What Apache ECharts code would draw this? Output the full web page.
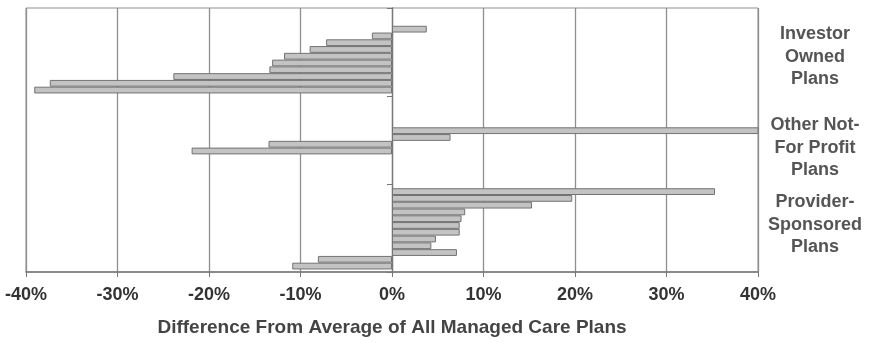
<!DOCTYPE html>
<html>
<head>
<meta charset="utf-8">
<script src="https://cdn.jsdelivr.net/npm/echarts@6/dist/echarts.min.js"></script>
<style>
html,body{margin:0;padding:0;background:#fff;}
#chart{width:873px;height:343px;}
</style>
</head>
<body>
<div id="chart"></div>
<script>
// ---- data ----
const groupLabels = ['Investor\nOwned\nPlans', 'Other Not-\nFor Profit\nPlans', 'Provider-\nSponsored\nPlans'];
const investorOwned = [3.8, -2.2, -7.2, -9.0, -11.8, -13.1, -13.4, -23.9, -37.4, -39.1];
const otherNotForProfit = [41, 6.4, -13.5, -21.9];
const providerSponsored = [35.3, 19.7, 15.3, 8.0, 7.6, 7.4, 7.4, 4.8, 4.3, 7.1, -8.1, -10.9];
const xTicks = [-40, -30, -20, -10, 0, 10, 20, 30, 40];

// ---- layout of bar slots (not data) ----
const SUB_PER_BAR = 4;          // sub-slots per bar height
const BARS_PER_GROUP = 13;      // bar slots per category band
const SUB_PER_GROUP = SUB_PER_BAR * BARS_PER_GROUP;
const groupStart = [12, 20, 4]; // first sub-slot index for each group's bars
const groups = [investorOwned, otherNotForProfit, providerSponsored];
// vertical nudge of the right-hand labels (spacer lines, in px)
const labelSpacer = [{top: 10}, {top: 16}, {bottom: 6}];

const totalSlots = SUB_PER_GROUP * groups.length;
const slotCats = [];
const barData = [];
for (let i = 0; i < totalSlots; i++) { slotCats.push('s' + i); barData.push('-'); }
groups.forEach((vals, g) => {
  vals.forEach((v, i) => {
    barData[g * SUB_PER_GROUP + groupStart[g] + i * SUB_PER_BAR] = v;
  });
});

const gridTop = 8, gridBottom = 71, chartH = 343;
const barW = (chartH - gridTop - gridBottom) / (BARS_PER_GROUP * groups.length);

const chart = echarts.init(document.getElementById('chart'), null, {renderer: 'canvas'});
const FONT = '"Liberation Sans", Arial, sans-serif';
chart.setOption({
  animation: false,
  backgroundColor: '#ffffff',
  grid: {left: 26, right: 115, top: gridTop, bottom: gridBottom, show: true,
         borderColor: '#8f8f8f', borderWidth: 1, containLabel: false, outerBoundsMode: 'none'},
  xAxis: {
    type: 'value', min: xTicks[0], max: xTicks[xTicks.length - 1], interval: 10,
    axisLine: {show: true, onZero: false, lineStyle: {color: '#777', width: 1.5}},
    axisTick: {show: true, length: 5, lineStyle: {color: '#777'}},
    splitLine: {show: true, lineStyle: {color: '#8f8f8f', width: 1.3}},
    axisLabel: {formatter: '{value}%', fontFamily: FONT, fontWeight: 'bold', fontSize: 18,
                color: '#333', margin: 14},
    name: 'Difference From Average of All Managed Care Plans',
    nameLocation: 'middle', nameGap: 46,
    nameTextStyle: {fontFamily: FONT, fontWeight: 'bold', fontSize: 19, color: '#444'}
  },
  yAxis: [
    {
      type: 'category', position: 'right', inverse: true, data: groupLabels,
      axisLine: {show: false, onZero: false}, axisTick: {show: false}, splitLine: {show: false},
      axisLabel: {
        margin: 57, fontFamily: FONT, fontWeight: 'bold', fontSize: 18, color: '#555',
        align: 'center', lineHeight: 22.5,
        formatter: function (value, idx) {
          const sp = labelSpacer[idx] || {};
          let s = value;
          if (sp.top) s = '{s' + sp.top + '| }\n' + s;
          if (sp.bottom) s = s + '\n{s' + sp.bottom + '| }';
          return s;
        },
        rich: {
          s6: {lineHeight: 6, fontSize: 1},
          s10: {lineHeight: 10, fontSize: 1},
          s16: {lineHeight: 16, fontSize: 1}
        }
      }
    },
    {
      type: 'category', data: groupLabels, position: 'left', inverse: true,
      axisLine: {show: true, onZero: true, onZeroAxisIndex: 0, lineStyle: {color: '#777', width: 1.3}},
      axisTick: {show: true, length: 5, lineStyle: {color: '#777'}},
      axisLabel: {show: false}, splitLine: {show: false}
    },
    {
      type: 'category', data: slotCats, inverse: true, show: false,
      axisLine: {show: false, onZero: false}, axisTick: {show: false}, axisLabel: {show: false}
    }
  ],
  series: [{
    type: 'bar', yAxisIndex: 2, data: barData, barWidth: barW, clip: true,
    itemStyle: {color: '#c3c3c3', borderColor: '#737373', borderWidth: 1}
  }]
});
</script>
</body>
</html>
